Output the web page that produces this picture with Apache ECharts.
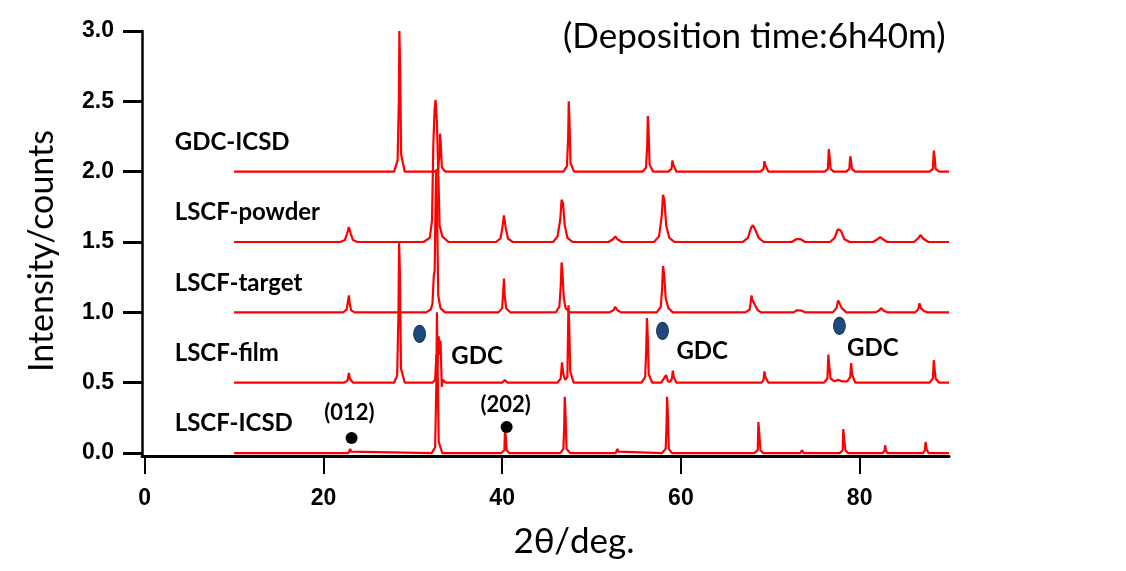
<!DOCTYPE html>
<html><head><meta charset="utf-8">
<script src="https://cdn.jsdelivr.net/npm/echarts@6/dist/echarts.min.js"></script>
<style>html,body{margin:0;padding:0;background:#fff}#c{width:1126px;height:571px}</style>
</head><body><div id="c"></div>
<script>
// ---- data (2θ in degrees, intensity relative to each trace's own baseline) ----
const traceNames = ['LSCF-ICSD', 'LSCF-film', 'LSCF-target', 'LSCF-powder', 'GDC-ICSD'];
const traceOffsets = [0, 0.5, 1.0, 1.5, 2.0];

const lscfIcsd = [[10,0],
  [22.8,0],[22.95,0.01],[23.0,0.03],[23.1,0.01],[23.3,0],
  [32.1,0],[32.5,0.04],[32.64,0.5],[32.7,1.0],[32.78,0.6],[32.9,0.08],[33.3,0],
  [39.9,0],[40.25,0.02],[40.32,0.17],[40.42,0.1],[40.5,0.02],[40.8,0],
  [46.5,0],[46.85,0.03],[46.95,0.2],[47.0,0.40],[47.08,0.3],[47.2,0.03],[47.6,0],
  [52.7,0],[52.85,0.01],[52.9,0.03],[53.0,0.01],[53.2,0],
  [57.9,0],[58.3,0.03],[58.4,0.2],[58.45,0.4],[58.53,0.3],[58.65,0.03],[59.0,0],
  [68.2,0],[68.6,0.02],[68.67,0.22],[68.77,0.14],[68.9,0.02],[69.2,0],
  [73.35,0],[73.55,0.02],[73.75,0],
  [77.8,0],[78.1,0.02],[78.17,0.17],[78.27,0.1],[78.4,0.02],[78.7,0],
  [82.6,0],[82.8,0.02],[82.85,0.055],[82.95,0.02],[83.1,0],
  [87.1,0],[87.3,0.02],[87.38,0.08],[87.48,0.03],[87.7,0],
  [90,0]];

const lscfFilm = [[10,0],[15.2,0],[15.3,0.006],[15.4,0],[16.8,0],[16.9,-0.005],[17.0,0],
  [22.3,0],[22.7,0.015],[22.85,0.07],[22.95,0.03],[23.3,0],
  [27.9,0],[28.25,0.05],[28.4,0.5],[28.47,1.0],[28.55,0.8],[28.68,0.1],[29.1,0],
  [32.2,0],[32.5,0.02],[32.65,0.2],[32.75,0.12],[32.9,0.33],[33.0,0.2],[33.1,0.3],[33.2,0.08],[33.25,-0.03],[33.35,0.02],[33.7,0],
  [40.0,0],[40.3,0.02],[40.6,0],
  [46.2,0],[46.55,0.03],[46.7,0.145],[46.85,0.06],[47.05,0.02],[47.3,0.04],[47.42,0.55],[47.5,0.42],[47.62,0.08],[48.0,0],
  [52.5,0],[52.7,0.012],[52.9,0],
  [55.6,0],[56.0,0.04],[56.13,0.25],[56.2,0.46],[56.28,0.35],[56.4,0.06],[56.8,0],
  [57.8,0],[58.2,0.04],[58.35,0.055],[58.55,0.01],[58.8,0.005],[59.0,0.03],[59.1,0.085],[59.2,0.04],[59.5,0],
  [68.0,0],[68.2,0.01],[68.4,0],
  [69.0,0],[69.25,0.02],[69.35,0.08],[69.45,0.04],[69.8,0],
  [76.0,0],[76.4,0.03],[76.5,0.2],[76.6,0.12],[76.75,0.03],[77.2,0.01],[77.6,0.02],[78.0,0.01],[78.6,0.01],[78.95,0.04],[79.05,0.14],[79.15,0.06],[79.5,0],
  [82.2,0],[82.4,0.01],[82.6,0],
  [87.8,0],[88.2,0.03],[88.3,0.16],[88.4,0.09],[88.5,0.03],[88.9,0],
  [90,0]];

const lscfTarget = [[10,0],[16.4,0],[16.5,-0.006],[16.6,0],[19.6,0],[19.7,0.005],[19.8,0],
  [22.2,0],[22.6,0.02],[22.75,0.08],[22.85,0.12],[22.95,0.06],[23.1,0.015],[23.5,0],
  [31.5,0],[32.0,0.02],[32.2,0.06],[32.35,0.26],[32.45,0.3],[32.55,0.8],[32.62,1.0],[32.72,0.7],[32.85,0.12],[33.1,0.03],[33.6,0],
  [38.3,0],[38.4,0.01],[38.5,0],
  [39.6,0],[40.0,0.03],[40.12,0.15],[40.2,0.24],[40.28,0.12],[40.45,0.03],[40.9,0],
  [46.0,0],[46.4,0.04],[46.55,0.18],[46.65,0.355],[46.75,0.28],[46.9,0.1],[47.1,0.03],[47.6,0],
  [52.0,0],[52.45,0.015],[52.65,0.04],[52.9,0.015],[53.3,0],
  [57.3,0],[57.75,0.04],[57.9,0.17],[58.0,0.33],[58.12,0.27],[58.3,0.1],[58.6,0.03],[59.1,0],
  [67.2,0],[67.7,0.02],[67.9,0.12],[68.0,0.09],[68.1,0.1],[68.3,0.05],[68.6,0.015],[69.0,0],
  [72.6,0],[73.0,0.015],[73.2,0.025],[73.5,0.012],[73.9,0],
  [77.0,0],[77.4,0.03],[77.6,0.085],[77.75,0.08],[78.0,0.03],[78.5,0],
  [81.8,0],[82.2,0.015],[82.4,0.03],[82.7,0.012],[83.1,0],
  [86.2,0],[86.55,0.02],[86.7,0.065],[86.85,0.03],[87.2,0.01],[87.6,0],
  [90,0]];

const lscfPowder = [[10,0],[15.8,0],[15.9,0.005],[16.0,0],[18.4,0],[18.5,0.006],[18.6,0],
  [21.9,0],[22.4,0.015],[22.65,0.06],[22.85,0.106],[23.05,0.06],[23.3,0.015],[23.8,0],
  [31.2,0],[31.9,0.03],[32.15,0.15],[32.3,0.7],[32.45,0.95],[32.55,1.01],[32.7,0.85],[32.85,0.5],[33.0,0.12],[33.3,0.04],[34.0,0],
  [38.2,0],[38.4,0.01],[38.6,0],
  [39.3,0],[39.8,0.025],[40.0,0.09],[40.2,0.19],[40.4,0.1],[40.65,0.025],[41.2,0],
  [45.7,0],[46.2,0.04],[46.5,0.16],[46.65,0.3],[46.8,0.28],[47.0,0.12],[47.3,0.03],[47.9,0],
  [51.9,0],[52.4,0.02],[52.65,0.04],[52.9,0.02],[53.4,0],
  [57.0,0],[57.55,0.04],[57.85,0.18],[58.0,0.335],[58.15,0.3],[58.35,0.12],[58.7,0.03],[59.3,0],
  [66.9,0],[67.5,0.03],[67.85,0.1],[68.05,0.12],[68.3,0.09],[68.7,0.03],[69.3,0],
  [72.4,0],[72.9,0.02],[73.1,0.03],[73.4,0.02],[73.9,0],
  [76.7,0],[77.2,0.03],[77.55,0.09],[77.7,0.1],[77.9,0.08],[78.3,0.02],[78.9,0],
  [81.5,0],[82.0,0.02],[82.3,0.035],[82.6,0.02],[83.1,0],
  [86.1,0],[86.6,0.03],[86.8,0.05],[87.1,0.025],[87.7,0],
  [90,0]];

const gdcIcsd = [[10,0],
  [27.9,0],[28.3,0.08],[28.44,0.5],[28.5,1.0],[28.58,0.75],[28.7,0.12],[29.1,0],
  [32.45,0],[32.85,0.02],[32.99,0.14],[33.05,0.27],[33.13,0.2],[33.25,0.03],[33.65,0],
  [46.85,0],[47.25,0.04],[47.39,0.25],[47.45,0.5],[47.53,0.38],[47.65,0.06],[48.05,0],
  [55.7,0],[56.1,0.03],[56.24,0.2],[56.3,0.395],[56.38,0.3],[56.5,0.05],[56.9,0],
  [58.6,0],[58.95,0.02],[59.05,0.08],[59.15,0.05],[59.5,0],
  [68.9,0],[69.25,0.02],[69.35,0.075],[69.45,0.045],[69.8,0],
  [76.1,0],[76.45,0.02],[76.55,0.16],[76.65,0.1],[76.75,0.02],[77.1,0],
  [78.5,0],[78.85,0.02],[78.95,0.11],[79.05,0.07],[79.15,0.02],[79.5,0],
  [87.8,0],[88.2,0.02],[88.3,0.15],[88.4,0.1],[88.5,0.02],[88.9,0],
  [90,0]];

const traces = [lscfIcsd, lscfFilm, lscfTarget, lscfPowder, gdcIcsd];

const xTicks = [0, 20, 40, 60, 80];
const yTicks = [0, 0.5, 1.0, 1.5, 2.0, 2.5, 3.0];

// annotation anchors in data coordinates: [2θ, y, text]
const traceLabelAnchors = [[3.36, 0.214], [3.36, 0.71], [3.36, 1.21], [3.36, 1.71], [3.36, 2.21]];
const gdcMarkers = [[30.76, 0.847], [57.94, 0.868], [77.74, 0.904]];
const gdcTexts = [[34.3, 0.69, 'GDC'], [59.5, 0.72, 'GDC'], [78.6, 0.747, 'GDC']];
const lscfMarkers = [[23.15, 0.107], [40.5, 0.185]];
const lscfTexts = [[22.9, 0.285, '(012)'], [40.4, 0.34, '(202)']];

const chartTitle = '(Deposition time:6h40m)';
const xTitle = '2θ/deg.';
const yTitle = 'Intensity/counts';

// ---- chart ----
const chart = echarts.init(document.getElementById('c'), null, {renderer: 'canvas'});
const red = '#ff0000';
const lineSeries = traces.map((t, i) => ({
  name: traceNames[i], type: 'line', showSymbol: false, symbol: 'none',
  data: t.map(p => [p[0], traceOffsets[i] + p[1]]),
  lineStyle: {color: red, width: 2.2}, itemStyle: {color: red},
  silent: true, z: 2
}));

const labelFont = {fontFamily: 'Lato, "Noto Sans", sans-serif', fontWeight: 'bold', color: '#000',
  opacity: 1, textBorderWidth: 0};
const tickFont = '"Liberation Sans Narrow", "Liberation Sans", Arial, sans-serif';

const option = {
  animation: false,
  backgroundColor: '#fff',
  grid: {left: 142, top: 31, width: 807, height: 425, containLabel: false},
  xAxis: {
    type: 'value', min: -0.3, max: 90,
    axisLine: {show: true, onZero: false, lineStyle: {color: '#000', width: 3}},
    axisTick: {show: true, length: 18, lineStyle: {color: '#000', width: 2}, customValues: xTicks},
    axisLabel: {show: true, margin: 31, color: '#000', fontFamily: tickFont,
      fontWeight: 'bold', fontSize: 23, customValues: xTicks, formatter: v => String(v)},
    splitLine: {show: false}
  },
  yAxis: {
    type: 'value', min: -0.021, max: 3.0,
    axisLine: {show: true, onZero: false, lineStyle: {color: '#000', width: 2.5}},
    axisTick: {show: true, length: 19, lineStyle: {color: '#000', width: 3}, customValues: yTicks},
    axisLabel: {show: true, margin: 28, color: '#000', fontFamily: tickFont,
      fontWeight: 'bold', fontSize: 23, customValues: yTicks, formatter: v => v.toFixed(1)},
    splitLine: {show: false}
  },
  graphic: [
    {type: 'text', left: 563, top: 19, style: {text: chartTitle, font: '35px Lato, "Noto Sans", sans-serif', fill: '#000'}},
    {type: 'text', x: 574, y: 542, style: {text: xTitle, font: '35px Lato, "Noto Sans", sans-serif', fill: '#000', align: 'center', verticalAlign: 'middle'}},
    {type: 'text', x: 42, y: 251, rotation: Math.PI / 2, style: {text: yTitle, font: '34px Lato, "Noto Sans", sans-serif', fill: '#000', align: 'center', verticalAlign: 'middle'}}
  ],
  series: lineSeries.concat([
    {
      type: 'scatter', symbolSize: 0, silent: true, z: 5,
      itemStyle: {opacity: 1},
      data: traceLabelAnchors.map((a, i) => [a[0], a[1], traceNames[i]]),
      label: Object.assign({show: true, position: 'right', distance: 0, fontSize: 24, formatter: p => p.value[2]}, labelFont)
    },
    {
      type: 'scatter', symbol: 'circle', symbolSize: [12, 17], silent: true, z: 6,
      data: gdcMarkers,
      itemStyle: {color: '#1F497D', borderColor: '#12304f', borderWidth: 1, opacity: 1}
    },
    {
      type: 'scatter', symbolSize: 0, silent: true, z: 5,
      itemStyle: {opacity: 1},
      data: gdcTexts,
      label: Object.assign({show: true, position: 'right', distance: 0, fontSize: 24, formatter: p => p.value[2]}, labelFont)
    },
    {
      type: 'scatter', symbol: 'circle', symbolSize: 12, silent: true, z: 6,
      data: lscfMarkers,
      itemStyle: {color: '#000', opacity: 1}
    },
    {
      type: 'scatter', symbolSize: 0, silent: true, z: 5,
      itemStyle: {opacity: 1},
      data: lscfTexts,
      label: Object.assign({show: true, position: 'inside', fontSize: 22, formatter: p => p.value[2]}, labelFont)
    }
  ])
};
chart.setOption(option);
</script>
</body></html>
